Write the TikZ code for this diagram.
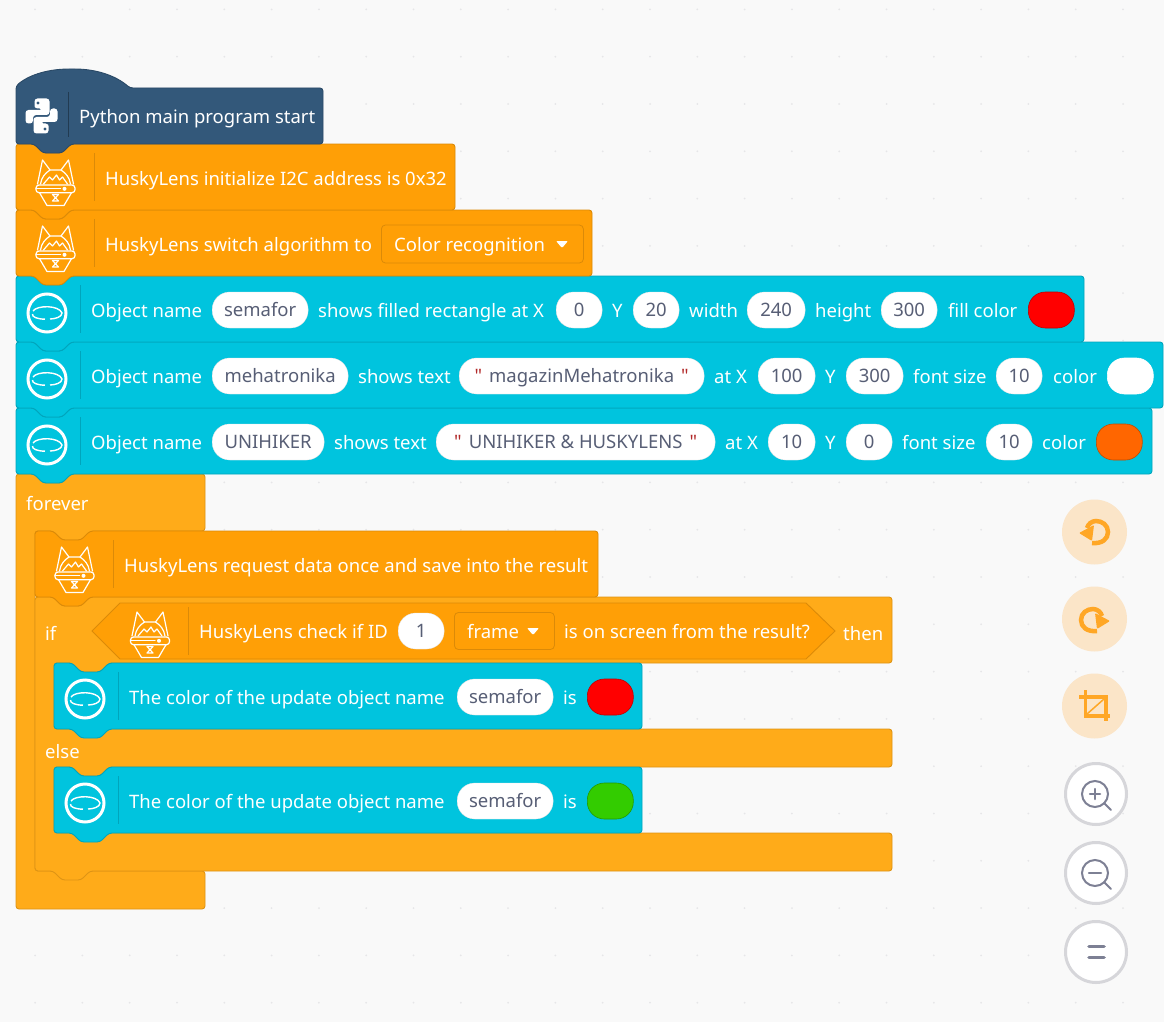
\documentclass[tikz,border=0pt]{standalone}
\usepackage{fontspec}
\setmainfont{Noto Sans}
\newfontfamily\plainq{Noto Sans}
\usepackage{xcolor}
\usetikzlibrary{calc}

\definecolor{pagegrey}{HTML}{F9F9F9}
\definecolor{griddotc}{HTML}{E6E6E8}
\definecolor{pyblue}{HTML}{33587A}
\definecolor{pyedge}{HTML}{2B4A67}
\definecolor{huskyor}{HTML}{FF9F06}
\definecolor{huskyedge}{HTML}{DB8A08}
\definecolor{ctrlor}{HTML}{FFAB19}
\definecolor{ctrledge}{HTML}{DE9415}
\definecolor{objteal}{HTML}{00C4DE}
\definecolor{objedge}{HTML}{00A5BC}
\definecolor{fieldtext}{HTML}{575E75}
\definecolor{quotered}{HTML}{B22A2A}
\definecolor{toolpeach}{HTML}{FBE5C8}
\definecolor{toolor}{HTML}{FFA726}
\definecolor{ringgrey}{HTML}{D6D6DA}
\definecolor{glassgrey}{HTML}{7D8094}
\definecolor{swatchgreen}{HTML}{33CC00}
\definecolor{swatchorange}{HTML}{FF6600}

\tikzset{
  blocklbl/.style={text=white,anchor=base west,inner sep=0pt,yshift=-0.8pt,font=\fontsize{18.5}{22}\selectfont},
  fieldpill/.style={anchor=west,fill=white,draw=black!12,line width=0.3pt,rounded corners=17.5pt,
    minimum height=36pt,inner sep=0pt,text=fieldtext,text height=15pt,text depth=3pt,
    font=\fontsize{18.5}{22}\selectfont},
  swatch/.style={anchor=west,rounded corners=17pt,minimum height=36pt,inner sep=0pt,line width=0.6pt},
  dropbox/.style={anchor=west,rounded corners=4pt,minimum height=38pt,inner sep=0pt,
    draw=huskyedge,fill=huskyor,line width=0.8pt},
  stackblock/.style={rounded corners=3pt,line width=0.9pt},
  huskyb/.style={stackblock,fill=huskyor,draw=huskyedge},
  ctrlb/.style={stackblock,fill=ctrlor,draw=ctrledge},
  objb/.style={stackblock,fill=objteal,draw=objedge},
  pyb/.style={stackblock,fill=pyblue,draw=pyedge},
  huskyline/.style={draw=white,line width=1.2pt,line join=round,line cap=round},
  toolline/.style={draw=toolor,line width=4.5pt},
  ringbtn/.style={fill=white,draw=ringgrey,line width=3pt},
  glassline/.style={draw=glassgrey,line width=2pt,line cap=round},
  huskyicon/.pic={
    \draw[huskyline] (-18,6) -- (-13,-18) -- (-5.5,-8) -- (5.5,-8) -- (13,-18) -- (18,6);
    \draw[huskyline] (-15,6) .. controls (-14,-1) and (-10,-5) .. (-5.5,-8);
    \draw[huskyline] (15,6) .. controls (14,-1) and (10,-5) .. (5.5,-8);
    \draw[huskyline] (-12,6) -- (-6,-1) -- (-3,2) -- (1,-3) -- (4,2) -- (7,-1) -- (12,6);
    \draw[huskyline,rounded corners=3pt] (-19.5,7) rectangle (19.5,14.7);
    \draw[huskyline] (-19.5,10.8) -- (5,10.8);
    \draw[huskyline] (-16,14.7) -- (-8.5,27.5) -- (8.5,27.5) -- (16,14.7);
    \draw[huskyline] (-3,16.5) -- (3,16.5) -- (-3,23) -- (3,23) -- cycle;
    \fill[white] (9,10.8) circle (2);
  },
  pyicon/.pic={
    \foreach \turn in {0,180} {
      \begin{scope}[rotate around={\turn:(16,17.5)}]
        \fill[white,rounded corners=3pt] (9,6) -- (9,10) -- (17,10) -- (17,11.5) -- (0,11.5) -- (0,25)
          -- (7.5,25) -- (7.5,16.5) -- (24,16.5) -- (24,0) -- (9,0) -- cycle;
        \fill[pyblue] (12.5,4.5) circle (1.6);
      \end{scope}
    }
  },
  objicon/.pic={
    \draw[white,line width=3pt] (0,0) circle (19);
    \draw[white,line width=1.4pt] (-14,-2) .. controls (-10,-8) and (12,-8) .. (15,0) .. controls (15,4) and (8,6) .. (3,6);
    \draw[white,line width=1.4pt] (-2,6.2) .. controls (-10,6) and (-15,4) .. (-14.5,1);
  },
}

% one stacked block: x0, y0, x1, y1
\newcommand{\stackpath}[4]{(#1,{#2+10}) -- (#1,#2) -- ({#1+18},#2) -- ({#1+27},{#2+9}) -- ({#1+46},{#2+9}) -- ({#1+55},#2)
  -- (#3,#2) -- (#3,#4) -- ({#1+55},#4) -- ({#1+46},{#4+9}) -- ({#1+27},{#4+9}) -- ({#1+18},#4) -- (#1,#4) -- cycle}
% field pill: name, x0, x1, y, text
\newcommand{\pillat}[5]{\node[fieldpill,minimum width={(#3-#2)*1pt}] (#1) at (#2,#4) {#5};}
% colour field: name, x0, y, fill, edge
\newcommand{\swatchat}[5]{\node[swatch,minimum width=46pt,fill=#4,draw=#5] (#1) at (#2,#3) {};}
\newcommand{\strq}{\textcolor{quotered}{\plainq "}}

\begin{document}
\begin{tikzpicture}[x=1pt,y=-1pt]
\useasboundingbox (0,0) rectangle (1164,1022);
\fill[pagegrey] (0,0) rectangle (1164,1022);

% Grid dots
\foreach \i in {0,...,23} {
  \foreach \j in {0,...,21} {
    \fill[griddotc] ({1123-47.3*\i},{9.4+47.3*\j}) circle (1);
  }
}

% Forever block
\draw[ctrlb] (16,484) -- (16,474) -- (34,474) -- (43,483) -- (62,483) -- (71,474) -- (205,474) -- (205,531)
  -- (91,531) -- (82,540) -- (62,540) -- (53,531) -- (35,531) -- (35,871) -- (205,871) -- (205,909)
  -- (16,909) -- cycle;

% If else block
\draw[ctrlb] (35,607) -- (35,597) -- (53,597) -- (62,606) -- (81,606) -- (90,597) -- (892,597) -- (892,663)
  -- (109,663) -- (100,672) -- (81,672) -- (72,663) -- (54,663) -- (54,729) -- (892,729) -- (892,767)
  -- (109,767) -- (100,776) -- (81,776) -- (72,767) -- (54,767) -- (54,833) -- (892,833) -- (892,871)
  -- (90,871) -- (81,880) -- (62,880) -- (53,871) -- (35,871) -- cycle;

% Blocks in the if else
\draw[objb] \stackpath{54}{767}{642}{833};
\draw[objb] \stackpath{54}{663}{642}{729};
\draw[huskyb] \stackpath{35}{531}{598}{597};

% Condition
\draw[huskyb,rounded corners=0pt] (92,631) -- (120,603) -- (806,603) -- (835,631) -- (806,659) -- (120,659) -- cycle;

% Main stack, last one first
\draw[objb] \stackpath{16}{408}{1152}{474};
\draw[objb] \stackpath{16}{342}{1163}{408};
\draw[objb] \stackpath{16}{276}{1084}{342};
\draw[huskyb] \stackpath{16}{210}{592}{276};
\draw[huskyb] \stackpath{16}{144}{455}{210};
\draw[pyb] (16,95) -- (16,86) .. controls (30,74) and (50,69) .. (72,69) .. controls (95,69) and (115,75) .. (130,88)
  -- (323,88) -- (323,144) -- (71,144) -- (62,153) -- (43,153) -- (34,144) -- (16,144) -- cycle;

% Dividers
\draw[pyedge!80!black,line width=1pt] (68,92) -- (68,137);
\foreach \y in {153,219} { \draw[huskyedge,line width=1pt] (94,\y) -- (94,{\y+48}); }
\foreach \y in {285,351,417} { \draw[objedge,line width=1pt] (80,\y) -- (80,{\y+48}); }
\draw[huskyedge,line width=1pt] (113,540) -- (113,588);
\draw[huskyedge,line width=1pt] (188,607) -- (188,655);
\foreach \y in {672,776} { \draw[objedge,line width=1pt] (118,\y) -- (118,{\y+48}); }

% Icons
\pic at (25.5,98.5) {pyicon};
\pic at (55.5,178) {huskyicon};
\pic at (55.5,244) {huskyicon};
\pic at (74.5,565) {huskyicon};
\pic at (150,630) {huskyicon};
\pic at (47,313) {objicon};
\pic at (47,379) {objicon};
\pic at (47,445) {objicon};
\pic at (85,699) {objicon};
\pic at (85,803) {objicon};

% Top of the stack
\node[blocklbl] (pystart) at (79,122.5) {Python main program start};
\node[blocklbl] (huskyinit) at (105,184.5) {HuskyLens initialize I2C address is 0x32};
\node[blocklbl] (huskyswitch) at (105,250.5) {HuskyLens switch algorithm to};
\node[dropbox,minimum width=202pt] (algobox) at (381,244) {};
\node[blocklbl] (algotext) at (394,250.5) {Color recognition};
\fill[white,rounded corners=1pt] (556,241) -- (568,241) -- (562,248) -- cycle;

% Rectangle row
\node[blocklbl] (rectname) at (91,316.5) {Object name};
\pillat{rectobj}{212}{308}{310}{semafor}
\node[blocklbl] (rectshow) at (318,316.5) {shows filled rectangle at X};
\pillat{rectx}{556}{602}{310}{0}
\node[blocklbl] (recty) at (612,316.5) {Y};
\pillat{rectyval}{633}{679}{310}{20}
\node[blocklbl] (rectw) at (689,316.5) {width};
\pillat{rectwval}{747}{805}{310}{240}
\node[blocklbl] (recth) at (815,316.5) {height};
\pillat{recthval}{881}{937}{310}{300}
\node[blocklbl] (rectfill) at (948,316.5) {fill color};
\swatchat{rectcol}{1028}{310}{red}{red!75!black}

% Mehatronika row
\node[blocklbl] (mehname) at (91,382.5) {Object name};
\pillat{mehobj}{212}{348}{376}{mehatronika}
\node[blocklbl] (mehshow) at (358,382.5) {shows text};
\pillat{mehstr}{459}{704}{376}{\strq\hspace{7pt}magazinMehatronika\hspace{7pt}\strq}
\node[blocklbl] (mehat) at (714,382.5) {at X};
\pillat{mehx}{758}{815}{376}{100}
\node[blocklbl] (mehy) at (825,382.5) {Y};
\pillat{mehyval}{846}{903}{376}{300}
\node[blocklbl] (mehsize) at (913,382.5) {font size};
\pillat{mehsizeval}{996}{1042}{376}{10}
\node[blocklbl] (mehcolor) at (1053,382.5) {color};
\swatchat{mehcol}{1107}{376}{white}{white}

% Unihiker row
\node[blocklbl] (uniname) at (91,448.5) {Object name};
\pillat{uniobj}{212}{324}{442}{UNIHIKER}
\node[blocklbl] (unishow) at (334,448.5) {shows text};
\pillat{unistr}{436}{715}{442}{\strq\hspace{7pt}UNIHIKER \& HUSKYLENS\hspace{7pt}\strq}
\node[blocklbl] (uniat) at (725,448.5) {at X};
\pillat{unix}{768}{815}{442}{10}
\node[blocklbl] (uniy) at (825,448.5) {Y};
\pillat{uniyval}{846}{892}{442}{0}
\node[blocklbl] (unisize) at (902,448.5) {font size};
\pillat{unisizeval}{986}{1032}{442}{10}
\node[blocklbl] (unicolor) at (1042,448.5) {color};
\swatchat{unicol}{1096}{442}{swatchorange}{swatchorange!75!black}

% Loop labels
\node[blocklbl] (foreverlbl) at (26,509.5) {forever};
\node[blocklbl] (huskyreq) at (124,572) {HuskyLens request data once and save into the result};
\node[blocklbl] (iflbl) at (45,639.5) {if};
\node[blocklbl] (huskycheck) at (199,637.5) {HuskyLens check if ID};
\pillat{checkid}{398}{444}{631}{1}
\node[dropbox,minimum width=100pt,minimum height=37pt] (framebox) at (454,631) {};
\node[blocklbl] (frametext) at (467,637.5) {frame};
\fill[white,rounded corners=1pt] (527,628) -- (539,628) -- (533,635) -- cycle;
\node[blocklbl] (onscreen) at (564,637.5) {is on screen from the result?};
\node[blocklbl] (thenlbl) at (843,639.5) {then};
\node[blocklbl] (elselbl) at (45,757.5) {else};

% Update rows
\node[blocklbl] (upd) at (129,703.5) {The color of the update object name};
\pillat{updobj}{457}{553}{697}{semafor}
\node[blocklbl] (updis) at (563,703.5) {is};
\swatchat{updcol}{587}{697}{red}{red!75!black}
\node[blocklbl] (upe) at (129,807.5) {The color of the update object name};
\pillat{upeobj}{457}{553}{801}{semafor}
\node[blocklbl] (upeis) at (563,807.5) {is};
\swatchat{upecol}{587}{801}{swatchgreen}{swatchgreen!75!black}

% Undo, redo and crop buttons
\fill[toolpeach] (1094.5,532) circle (32.5);
\fill[toolpeach] (1094.5,619) circle (32.5);
\fill[toolpeach] (1094.5,706) circle (32.5);
\draw[toolline] (1092,543) .. controls (1102,544) and (1108,539) .. (1108,532) .. controls (1108,525) and (1102,521) .. (1096,521) .. controls (1092,521) and (1088,524) .. (1087,528);
\fill[toolor,rounded corners=1pt] (1079,533) -- (1094,525) -- (1092,541) -- cycle;
\draw[toolline] (1097,631) .. controls (1087,632) and (1081,627) .. (1081,620) .. controls (1081,613) and (1087,609) .. (1093,609) .. controls (1097,609) and (1101,612) .. (1102,616);
\fill[toolor,rounded corners=1pt] (1110,621) -- (1095,613) -- (1097,629) -- cycle;
\draw[toolor,line width=3.4pt] (1079,697) -- (1106,697) -- (1106,721);
\draw[toolor,line width=3.4pt] (1085.5,690) -- (1085.5,716) -- (1110,716);
\draw[toolor,line width=1.5pt] (1087,714) -- (1104,699);

% Zoom buttons
\draw[ringbtn] (1096,794) circle (30.5);
\draw[ringbtn] (1096,873) circle (30.5);
\draw[ringbtn] (1096,952) circle (30.5);
\draw[glassline] (1095,794) circle (13);
\draw[glassline] (1104,803) -- (1111,810);
\draw[glassline,line width=2.5pt] (1090,794) -- (1100,794);
\draw[glassline,line width=2.5pt] (1095,789) -- (1095,799);
\draw[glassline] (1095,873) circle (13);
\draw[glassline] (1104,882) -- (1111,889);
\draw[glassline,line width=2.5pt] (1089,873) -- (1101,873);
\draw[glassline,line width=3.6pt] (1089,946.5) -- (1104,946.5);
\draw[glassline,line width=3.6pt] (1089,957.5) -- (1104,957.5);

\end{tikzpicture}
\end{document}
